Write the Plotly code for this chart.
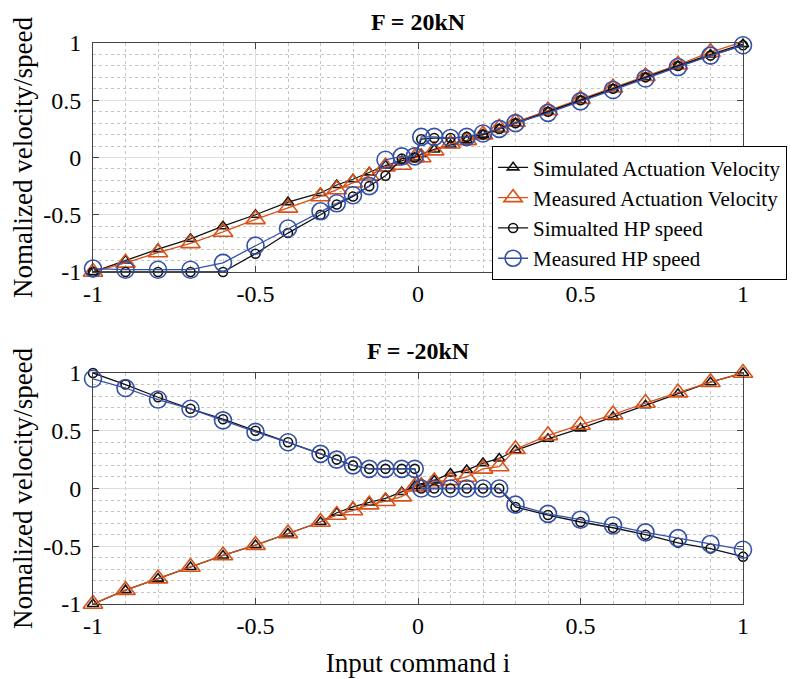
import plotly.graph_objects as go

# ---------------- data ----------------
x_cmd = [-1.0, -0.9, -0.8, -0.7, -0.6, -0.5, -0.4, -0.3, -0.25, -0.2, -0.15, -0.1, -0.05,
         -0.01, 0.01, 0.05, 0.1, 0.15, 0.2, 0.25, 0.3, 0.4, 0.5, 0.6, 0.7, 0.8, 0.9, 1.0]

# F = 20kN
top_sim_act = [-1.0, -0.9, -0.8, -0.71, -0.6, -0.5, -0.39, -0.31, -0.24, -0.19, -0.13, -0.07, -0.03,
               0.0, 0.03, 0.07, 0.11, 0.15, 0.2, 0.25, 0.3, 0.4, 0.5, 0.6, 0.7, 0.8, 0.9, 0.99]
top_meas_act = [-1.0, -0.92, -0.83, -0.75, -0.65, -0.54, -0.44, -0.34, -0.28, -0.22, -0.16, -0.08, -0.065,
                 0.0, 0.0, 0.06, 0.12, 0.15, 0.2, 0.26, 0.31, 0.41, 0.51, 0.61, 0.71, 0.81, 0.92, 1.01]
top_sim_hp = [-1.0, -1.0, -1.0, -1.0, -1.0, -0.84, -0.66, -0.5, -0.41, -0.34, -0.25, -0.16, -0.01,
              0.0, 0.16, 0.17, 0.17, 0.18, 0.2, 0.25, 0.3, 0.4, 0.5, 0.6, 0.7, 0.8, 0.89, 0.98]
top_meas_hp = [-0.97, -0.98, -0.98, -0.98, -0.92, -0.77, -0.62, -0.47, -0.4, -0.33, -0.25, -0.02, 0.01,
               0.01, 0.18, 0.18, 0.17, 0.18, 0.21, 0.25, 0.3, 0.39, 0.49, 0.59, 0.69, 0.79, 0.89, 0.98]

# F = -20kN
bot_sim_act = [-1.0, -0.88, -0.78, -0.68, -0.58, -0.49, -0.39, -0.29, -0.21, -0.16, -0.12, -0.085, -0.03,
               0.02, 0.04, 0.07, 0.13, 0.16, 0.22, 0.26, 0.33, 0.43, 0.52, 0.62, 0.72, 0.82, 0.92, 1.0]
bot_meas_act = [-1.0, -0.88, -0.78, -0.68, -0.58, -0.49, -0.39, -0.29, -0.23, -0.19, -0.14, -0.11, -0.07,
                0.015, 0.02, 0.06, 0.07, 0.1, 0.17, 0.19, 0.34, 0.46, 0.55, 0.64, 0.74, 0.83, 0.92, 1.0]
bot_sim_hp = [1.0, 0.9, 0.79, 0.69, 0.6, 0.5, 0.4, 0.3, 0.25, 0.2, 0.17, 0.17, 0.17,
              0.17, 0.0, 0.0, 0.0, 0.0, 0.0, 0.0, -0.16, -0.23, -0.29, -0.34, -0.4, -0.47, -0.52, -0.59]
bot_meas_hp = [0.95, 0.87, 0.77, 0.69, 0.59, 0.49, 0.4, 0.3, 0.25, 0.2, 0.17, 0.17, 0.17,
               0.17, 0.0, 0.0, 0.0, 0.0, 0.0, 0.0, -0.14, -0.22, -0.27, -0.32, -0.38, -0.43, -0.48, -0.53]

series_names = ["Simulated Actuation Velocity", "Measured Actuation Velocity",
                "Simualted HP speed", "Measured HP speed"]
titles = ["F = 20kN", "F = -20kN"]
tick_vals = [-1, -0.5, 0, 0.5, 1]
tick_text = ["-1", "-0.5", "0", "0.5", "1"]
x_title = "Input command i"
y_title = "Nomalized velocity/speed"

# ---------------- styles ----------------
FONT = "Liberation Serif, Times New Roman, serif"
BLACK = "#111111"
ORANGE = "#D95319"
BLUE = "#3450A8"
styles = [
    dict(color=BLACK, symbol="triangle-up-open", size=10, lw=1.3),
    dict(color=ORANGE, symbol="triangle-up-open", size=17, lw=1.3),
    dict(color=BLACK, symbol="circle-open", size=9, lw=1.3),
    dict(color=BLUE, symbol="circle-open", size=17, lw=1.3),
]

fig = go.Figure()
panels = [
    ("x", "y", [top_sim_act, top_meas_act, top_sim_hp, top_meas_hp], True),
    ("x2", "y2", [bot_sim_act, bot_meas_act, bot_sim_hp, bot_meas_hp], False),
]
for xa, ya, ys, show in panels:
    for name, yv, st in zip(series_names, ys, styles):
        fig.add_trace(go.Scatter(
            x=x_cmd, y=yv, name=name, xaxis=xa, yaxis=ya,
            mode="lines+markers", showlegend=show, cliponaxis=False,
            line=dict(color=st["color"], width=st["lw"]),
            marker=dict(symbol=st["symbol"], size=st["size"], color=st["color"],
                        line=dict(color=st["color"], width=1.6)),
        ))

axis_common = dict(
    range=[-1, 1], tickvals=tick_vals, ticktext=tick_text, automargin=False,
    showline=True, linecolor="#444444", linewidth=1, mirror="ticks",
    ticks="inside", ticklen=6, tickcolor="#444444",
    showgrid=True, gridcolor="#DDDDDD", gridwidth=1, zeroline=False,
    tickfont=dict(family=FONT, size=24, color="black"),
    minor=dict(dtick=0.1, showgrid=True, gridcolor="#C4C4C4", griddash="dot", gridwidth=1, ticks=""),
)

top_dom = [0.5918, 1.0]
bot_dom = [0.0, 0.4118]

fig.update_layout(
    width=800, height=671,
    margin=dict(l=85, r=65, t=35, b=75, autoexpand=False),
    paper_bgcolor="white", plot_bgcolor="white",
    font=dict(family=FONT, color="black"),
    xaxis=dict(axis_common, domain=[0, 1], anchor="y"),
    yaxis=dict(axis_common, domain=top_dom, anchor="x", ticklabelstandoff=6,
               title=dict(text=y_title, font=dict(family=FONT, size=27), standoff=2)),
    xaxis2=dict(axis_common, domain=[0, 1], anchor="y2",
                title=dict(text=x_title, font=dict(family=FONT, size=27), standoff=15)),
    yaxis2=dict(axis_common, domain=bot_dom, anchor="x2", ticklabelstandoff=6,
                title=dict(text=y_title, font=dict(family=FONT, size=27), standoff=2)),
    legend=dict(
        x=0.614, y=0.816, xanchor="left", yanchor="top",
        bgcolor="white", bordercolor="black", borderwidth=1,
        font=dict(family=FONT, size=21, color="black"),
        tracegroupgap=0, itemsizing="trace",
    ),
    showlegend=True,
    annotations=[
        dict(text="<b>" + titles[0] + "</b>", x=0.5, y=1.0374, xref="paper", yref="paper",
             xanchor="center", yanchor="middle", showarrow=False,
             font=dict(family=FONT, size=24, color="black")),
        dict(text="<b>" + titles[1] + "</b>", x=0.5, y=0.451, xref="paper", yref="paper",
             xanchor="center", yanchor="middle", showarrow=False,
             font=dict(family=FONT, size=24, color="black")),
    ],
)

fig.write_html("out.html")
